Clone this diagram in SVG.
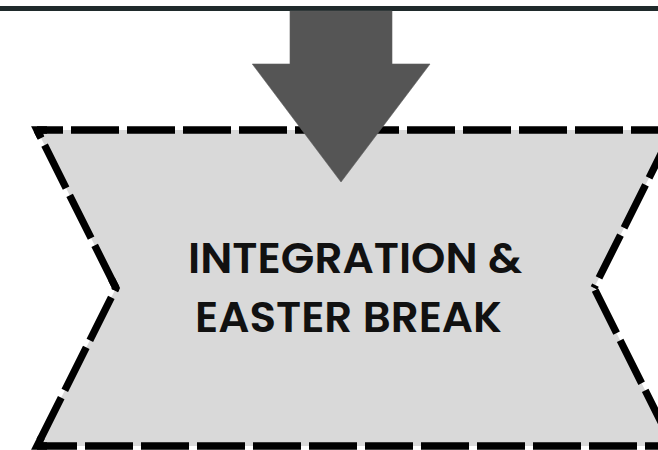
<svg xmlns="http://www.w3.org/2000/svg" width="658" height="450" viewBox="0 0 658 450">
<style>
.bg{fill:#ffffff}
.bar{fill:#1f2a2b}
.shape{fill:#d9d9d9;stroke:none}
.edge{fill:none;stroke:#000000;stroke-width:7.3;stroke-dasharray:48 8;stroke-linecap:butt}
.corner{fill:none;stroke:#000000;stroke-width:7.3;stroke-linejoin:miter;stroke-miterlimit:10;stroke-linecap:butt}
.label{font-family:"Poppins","Liberation Sans",Arial,sans-serif;font-weight:600;font-size:42px;fill:#111111}
.arrow{fill:#555555;stroke:#5e5e5e;stroke-width:0.6}
</style>
<rect class="bg" x="0" y="0" width="658" height="450"/>
<g id="top-bar">
  <rect class="bar" x="0" y="6" width="658" height="5"/>
</g>
<g id="node-integration">
  <polygon class="shape" points="37,130 673,130 594,288 673,446 37,446 116,288"/>
  <g id="node-integration-outline">
    <path class="edge" stroke-dashoffset="22" d="M37,130 L673,130"/>
    <path class="edge" stroke-dashoffset="39" d="M37,130 L116,288"/>
    <path class="edge" stroke-dasharray="49 8" stroke-dashoffset="45.5" d="M116,288 L37,446"/>
    <path class="edge" stroke-dashoffset="8" d="M37,446 L673,446"/>
    <path class="edge" stroke-dashoffset="44.8" d="M594,288 L673,130"/>
    <path class="edge" stroke-dashoffset="53.5" d="M594,288 L673,446"/>
    <path class="corner" d="M47,130 L37,130 L40.6,137.2"/>
    <path class="corner" d="M111.5,279.1 L116,288 L114.7,290.7"/>
    <path class="corner" d="M41.5,437.1 L37,446 L47,446"/>
  </g>
  <text class="label" x="188" y="272.7" textLength="334" lengthAdjust="spacingAndGlyphs">INTEGRATION &amp;</text>
  <text class="label" x="195" y="331.7" textLength="307" lengthAdjust="spacingAndGlyphs">EASTER BREAK</text>
</g>
<g id="connectors">
  <path class="arrow" d="M290,11 L392,11 L392,64 L430,64 L341,182 L252.3,64 L290,64 Z"/>
</g>
</svg>
